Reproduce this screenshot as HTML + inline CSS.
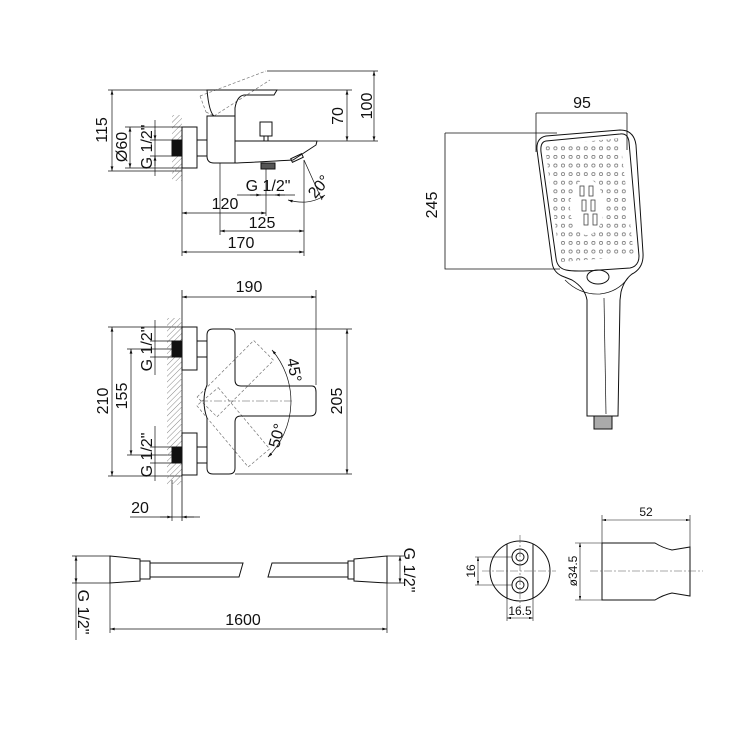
<!DOCTYPE html>
<html><head><meta charset="utf-8"><style>
html,body{margin:0;padding:0;background:#fff}
svg{display:block}
text{font-family:"Liberation Sans",sans-serif;fill:#111}
</style></head><body>
<svg width="750" height="750" viewBox="0 0 750 750" xmlns="http://www.w3.org/2000/svg">
<defs>
<marker id="a" viewBox="0 0 10 6" refX="10" refY="3" markerWidth="7" markerHeight="4" orient="auto-start-reverse"><path d="M0,0 L10,3 L0,6 Z" fill="#111"/></marker>
<pattern id="h" width="4" height="4" patternUnits="userSpaceOnUse" patternTransform="rotate(45)"><line x1="0" y1="0" x2="0" y2="4" stroke="#888" stroke-width="1"/></pattern>
<pattern id="dots" x="544" y="144" width="7.6" height="8.6" patternUnits="userSpaceOnUse"><circle cx="3.8" cy="4.3" r="1.6" fill="none" stroke="#666" stroke-width="0.7"/></pattern>
<clipPath id="face"><path d="M545,146 L620,138 L634,256 L560,262 Z"/></clipPath>
</defs>
<g fill="none" stroke="#111" stroke-width="1">

<line x1="267" y1="71" x2="378" y2="71" stroke-width="0.7"/>
<line x1="374" y1="71" x2="374" y2="141" marker-start="url(#a)" marker-end="url(#a)" stroke-width="0.7"/>
<line x1="277" y1="90" x2="352" y2="90" stroke-width="0.7"/>
<line x1="347" y1="90" x2="347" y2="141" marker-start="url(#a)" marker-end="url(#a)" stroke-width="0.7"/>
<line x1="317" y1="141" x2="378" y2="141" stroke-width="0.7"/>
<line x1="108" y1="90" x2="207" y2="90" stroke-width="0.7"/>
<line x1="112" y1="90" x2="112" y2="171" marker-start="url(#a)" marker-end="url(#a)" stroke-width="0.7"/>
<line x1="108" y1="171" x2="182" y2="171" stroke-width="0.7"/>
<path d="M200,96 L266,71 M206,112 L214,116 M200,96 L206,112 M214,116 L270,80" stroke="#777" stroke-width="0.7" stroke-dasharray="3,2"/>
<path d="M207,90 L277,90 L274,95 L244,95 Q237,96 235,108 L235,116 L214,116 Q209,112 207,90 Z"/>
<path d="M207,116 L235,116 L235,141 L317,141 L316,145 L293,160 Q240,163 235,163 L214,163 Q207,163 207,156 Z"/>
<line x1="235" y1="141" x2="235" y2="163"/>
<rect x="291" y="156" width="12" height="4" transform="rotate(-25 297 158)"/>
<rect x="260" y="122" width="12" height="14"/>
<rect x="264" y="136" width="4" height="5"/>
<rect x="261" y="163" width="14" height="6" fill="#555"/>
<rect x="172" y="115" width="10" height="66" fill="url(#h)" stroke="none"/>
<rect x="172" y="140" width="10" height="16" fill="#111"/>
<rect x="182" y="127" width="15" height="41" fill="#fff"/>
<rect x="197" y="140" width="10" height="16"/>
<line x1="125" y1="127" x2="182" y2="127" stroke-width="0.7"/>
<line x1="125" y1="168" x2="182" y2="168" stroke-width="0.7"/>
<line x1="130" y1="127" x2="130" y2="168" marker-start="url(#a)" marker-end="url(#a)" stroke-width="0.7"/>
<line x1="150" y1="140" x2="182" y2="140" stroke-width="0.7"/>
<line x1="150" y1="156" x2="182" y2="156" stroke-width="0.7"/>
<line x1="155" y1="120" x2="155" y2="176" stroke-width="0.7"/>
<line x1="155" y1="130" x2="155" y2="140" marker-end="url(#a)" stroke-width="0.7"/>
<line x1="155" y1="166" x2="155" y2="156" marker-end="url(#a)" stroke-width="0.7"/>
<line x1="182" y1="168" x2="182" y2="256" stroke-width="0.7"/>
<line x1="220" y1="163" x2="220" y2="235" stroke-width="0.7"/>
<line x1="304" y1="160" x2="304" y2="256" stroke-width="0.7"/>
<line x1="266" y1="169" x2="266" y2="216" stroke-width="0.7"/>
<line x1="182" y1="213" x2="266" y2="213" marker-start="url(#a)" marker-end="url(#a)" stroke-width="0.7"/>
<line x1="220" y1="231" x2="304" y2="231" marker-start="url(#a)" marker-end="url(#a)" stroke-width="0.7"/>
<line x1="182" y1="252" x2="304" y2="252" marker-start="url(#a)" marker-end="url(#a)" stroke-width="0.7"/>
<line x1="237" y1="195" x2="295" y2="195" stroke-width="0.7"/>
<line x1="250" y1="195" x2="261" y2="195" marker-end="url(#a)" stroke-width="0.7"/>
<line x1="285" y1="195" x2="275" y2="195" marker-end="url(#a)" stroke-width="0.7"/>
<line x1="304" y1="160" x2="322" y2="200" stroke-width="0.7"/>
<path d="M288,200 Q310,206 325,195" marker-start="url(#a)" marker-end="url(#a)" stroke-width="0.7"/>

<line x1="182" y1="290" x2="182" y2="521" stroke-width="0.8"/>
<line x1="172" y1="480" x2="172" y2="521" stroke-width="0.7"/>
<line x1="316" y1="290" x2="316" y2="385" stroke-width="0.7"/>
<line x1="182" y1="297" x2="316" y2="297" marker-start="url(#a)" marker-end="url(#a)" stroke-width="0.7"/>
<line x1="235" y1="329" x2="352" y2="329" stroke-width="0.7"/>
<line x1="235" y1="474" x2="352" y2="474" stroke-width="0.7"/>
<line x1="347" y1="329" x2="347" y2="474" marker-start="url(#a)" marker-end="url(#a)" stroke-width="0.7"/>
<line x1="108" y1="327" x2="182" y2="327" stroke-width="0.7"/>
<line x1="108" y1="476" x2="182" y2="476" stroke-width="0.7"/>
<line x1="112" y1="327" x2="112" y2="476" marker-start="url(#a)" marker-end="url(#a)" stroke-width="0.7"/>
<line x1="127" y1="349" x2="182" y2="349" stroke-width="0.7"/>
<line x1="127" y1="455" x2="182" y2="455" stroke-width="0.7"/>
<line x1="131" y1="349" x2="131" y2="455" marker-start="url(#a)" marker-end="url(#a)" stroke-width="0.7"/>
<line x1="130" y1="517" x2="200" y2="517" stroke-width="0.7"/>
<line x1="160" y1="517" x2="172" y2="517" marker-end="url(#a)" stroke-width="0.7"/>
<line x1="194" y1="517" x2="182" y2="517" marker-end="url(#a)" stroke-width="0.7"/>
<rect x="167" y="318" width="15" height="167" fill="url(#h)" stroke="none"/>
<rect x="172" y="341" width="10" height="16" fill="#111"/>
<rect x="172" y="447" width="10" height="16" fill="#111"/>
<rect x="182" y="327" width="15" height="43" fill="#fff"/>
<rect x="182" y="433" width="15" height="42" fill="#fff"/>
<rect x="197" y="341" width="10" height="16"/>
<rect x="197" y="447" width="10" height="16"/>
<line x1="150" y1="341" x2="172" y2="341" stroke-width="0.7"/><line x1="150" y1="357" x2="172" y2="357" stroke-width="0.7"/>
<line x1="150" y1="447" x2="172" y2="447" stroke-width="0.7"/><line x1="150" y1="463" x2="172" y2="463" stroke-width="0.7"/>
<line x1="155" y1="320" x2="155" y2="375" stroke-width="0.7"/>
<line x1="155" y1="426" x2="155" y2="481" stroke-width="0.7"/>
<g stroke="#777" stroke-width="0.7" stroke-dasharray="3,2">
<rect x="205" y="388" width="80" height="28" transform="rotate(-45 212 402)"/>
<rect x="205" y="388" width="80" height="28" transform="rotate(50 212 402)"/>
</g>
<path d="M213,329 L229,329 Q235,329 235,335 L235,380 Q235,386 241,386 L312,386 Q316,386 316,392 L316,410 Q316,416 310,416 L241,416 Q235,416 235,422 L235,468 Q235,474 229,474 L213,474 Q207,474 207,468 L207,418 Q204,410 204,401 Q204,392 207,385 L207,335 Q207,329 213,329 Z"/>
<path d="M272,350 A79,79 0 0 1 268,457" marker-start="url(#a)" marker-end="url(#a)" stroke-width="0.7"/>
<line x1="200" y1="401" x2="292" y2="401" stroke="#555" stroke-width="0.6" stroke-dasharray="8,2,2,2"/>

<line x1="536" y1="113" x2="627" y2="113" stroke-width="0.8"/>
<line x1="536" y1="113" x2="536" y2="152" stroke-width="0.8"/>
<line x1="627" y1="113" x2="627" y2="150" stroke-width="0.8"/>
<path d="M445,133 L557,133 M445,133 L445,269 L560,269" stroke-width="0.8"/>
<path d="M546,136 L620,130 Q634,130 636,145 L643,253 Q644,268 632,274 Q624,280 621,292 L620,300 L618,416 L587,416 L587,300 Q585,288 572,280 L562,276 Q553,272 552,262 L537,150 Q536,138 546,136 Z"/>
<path d="M546,141 L620,134 Q628,133 629,142 L639,256 Q639,266 630,268 L600,270 Q575,272 566,270 Q557,268 556,258 L541,152 Q540,142 546,141 Z"/>
<rect x="540" y="138" width="102" height="136" fill="url(#dots)" stroke="none" clip-path="url(#face)"/>
<ellipse cx="587" cy="207" rx="17" ry="28" fill="#fff" stroke="none"/>
<g stroke="#444" stroke-width="0.8">
<rect x="580" y="186" width="4" height="10"/><rect x="589" y="186" width="4" height="10"/>
<rect x="582" y="200" width="4" height="11"/><rect x="591" y="200" width="4" height="11"/>
<rect x="584" y="214" width="4" height="11"/><rect x="593" y="214" width="4" height="11"/>
</g>
<ellipse cx="598" cy="277" rx="11" ry="7"/>
<path d="M565,280 Q580,295 600,294 Q618,292 628,278" stroke-width="0.7"/>
<line x1="604" y1="298" x2="606" y2="414" stroke-width="0.7"/>
<rect x="594" y="416" width="18" height="13" fill="#aaa"/>

<path d="M110,556 L140,559 L140,581 L110,583 Z"/>
<rect x="140" y="561" width="10" height="18"/>
<path d="M150,563 L243,563 L239,577 L150,577"/>
<path d="M272,563 L348,563 L348,577 L268,577 Z" />
<rect x="348" y="561" width="6" height="18"/>
<path d="M354,559 L387,556 L387,583 L354,581 Z"/>
<line x1="72" y1="556" x2="110" y2="556" stroke-width="0.7"/>
<line x1="72" y1="583" x2="110" y2="583" stroke-width="0.7"/>
<line x1="76" y1="556" x2="76" y2="640" stroke-width="0.7"/>
<line x1="76" y1="570" x2="76" y2="556" marker-end="url(#a)" stroke-width="0.7"/>
<line x1="76" y1="570" x2="76" y2="583" marker-end="url(#a)" stroke-width="0.7"/>
<line x1="387" y1="556" x2="404" y2="556" stroke-width="0.7"/>
<line x1="387" y1="583" x2="404" y2="583" stroke-width="0.7"/>
<line x1="400" y1="556" x2="400" y2="583" marker-start="url(#a)" marker-end="url(#a)" stroke-width="0.7"/>
<line x1="110" y1="583" x2="110" y2="633" stroke-width="0.7"/>
<line x1="387" y1="583" x2="387" y2="633" stroke-width="0.7"/>
<line x1="110" y1="629" x2="387" y2="629" marker-start="url(#a)" marker-end="url(#a)" stroke-width="0.7"/>

<circle cx="520" cy="571" r="30"/>
<line x1="507" y1="544" x2="507" y2="598"/>
<line x1="533" y1="544" x2="533" y2="598"/>
<circle cx="520" cy="557" r="8"/><circle cx="520" cy="557" r="4"/>
<circle cx="520" cy="585" r="8"/><circle cx="520" cy="585" r="4"/>
<line x1="482" y1="571" x2="556" y2="571" stroke="#555" stroke-width="0.6" stroke-dasharray="8,2,2,2"/>
<line x1="520" y1="535" x2="520" y2="607" stroke="#555" stroke-width="0.6" stroke-dasharray="8,2,2,2"/>
<line x1="475" y1="557" x2="512" y2="557" stroke-width="0.6"/>
<line x1="475" y1="585" x2="512" y2="585" stroke-width="0.6"/>
<line x1="478" y1="557" x2="478" y2="585" marker-start="url(#a)" marker-end="url(#a)" stroke-width="0.6"/>
<line x1="507" y1="598" x2="507" y2="621" stroke-width="0.6"/>
<line x1="533" y1="598" x2="533" y2="621" stroke-width="0.6"/>
<line x1="507" y1="618" x2="533" y2="618" marker-start="url(#a)" marker-end="url(#a)" stroke-width="0.6"/>
<path d="M602,543 L655,543 Q663,548 672,550 L690,547 L690,596 L672,593 Q663,595 655,600 L602,600 Z"/>
<line x1="590" y1="571" x2="703" y2="571" stroke="#555" stroke-width="0.6" stroke-dasharray="8,2,2,2"/>
<line x1="602" y1="515" x2="602" y2="543" stroke-width="0.6"/>
<line x1="690" y1="515" x2="690" y2="547" stroke-width="0.6"/>
<line x1="602" y1="520" x2="690" y2="520" marker-start="url(#a)" marker-end="url(#a)" stroke-width="0.6"/>
<line x1="575" y1="543" x2="602" y2="543" stroke-width="0.6"/>
<line x1="575" y1="600" x2="602" y2="600" stroke-width="0.6"/>
<line x1="580" y1="543" x2="580" y2="600" marker-start="url(#a)" marker-end="url(#a)" stroke-width="0.6"/>
</g>

<g font-size="16">
<text transform="translate(375,106) rotate(-90)" text-anchor="middle" dy="-3">100</text>
<text transform="translate(347,116) rotate(-90)" text-anchor="middle" dy="-4">70</text>
<text transform="translate(107,130) rotate(-90)" text-anchor="middle">115</text>
<text transform="translate(127,147) rotate(-90)" text-anchor="middle">Ø60</text>
<text transform="translate(152,147) rotate(-90)" text-anchor="middle">G 1/2"</text>
<text x="268" y="191" text-anchor="middle">G 1/2"</text>
<text x="225" y="209" text-anchor="middle">120</text>
<text x="262" y="228" text-anchor="middle">125</text>
<text x="241" y="248" text-anchor="middle">170</text>
<text transform="translate(323,190) rotate(-50)" text-anchor="middle">20°</text>
<text x="249" y="292" text-anchor="middle">190</text>
<text transform="translate(344,401) rotate(-90)" text-anchor="middle" dy="-2">205</text>
<text transform="translate(108,401) rotate(-90)" text-anchor="middle">210</text>
<text transform="translate(127,396) rotate(-90)" text-anchor="middle">155</text>
<text transform="translate(152,349) rotate(-90)" text-anchor="middle">G 1/2"</text>
<text transform="translate(152,455) rotate(-90)" text-anchor="middle">G 1/2"</text>
<text x="140" y="513" text-anchor="middle">20</text>
<text transform="translate(289,371) rotate(80)" text-anchor="middle">45°</text>
<text transform="translate(282,437) rotate(-75)" text-anchor="middle">50°</text>
<text x="582" y="108" text-anchor="middle">95</text>
<text transform="translate(437,205) rotate(-90)" text-anchor="middle">245</text>
<text transform="translate(78,612) rotate(90)" text-anchor="middle">G 1/2"</text>
<text transform="translate(404,570) rotate(90)" text-anchor="middle">G 1/2"</text>
<text x="243" y="625" text-anchor="middle">1600</text>
</g>
<g font-size="12">
<text transform="translate(475,571) rotate(-90)" text-anchor="middle">16</text>
<text x="520" y="615" text-anchor="middle">16.5</text>
<text x="646" y="516" text-anchor="middle">52</text>
<text transform="translate(577,571) rotate(-90)" text-anchor="middle">ø34.5</text>
</g>
</svg>
</body></html>
